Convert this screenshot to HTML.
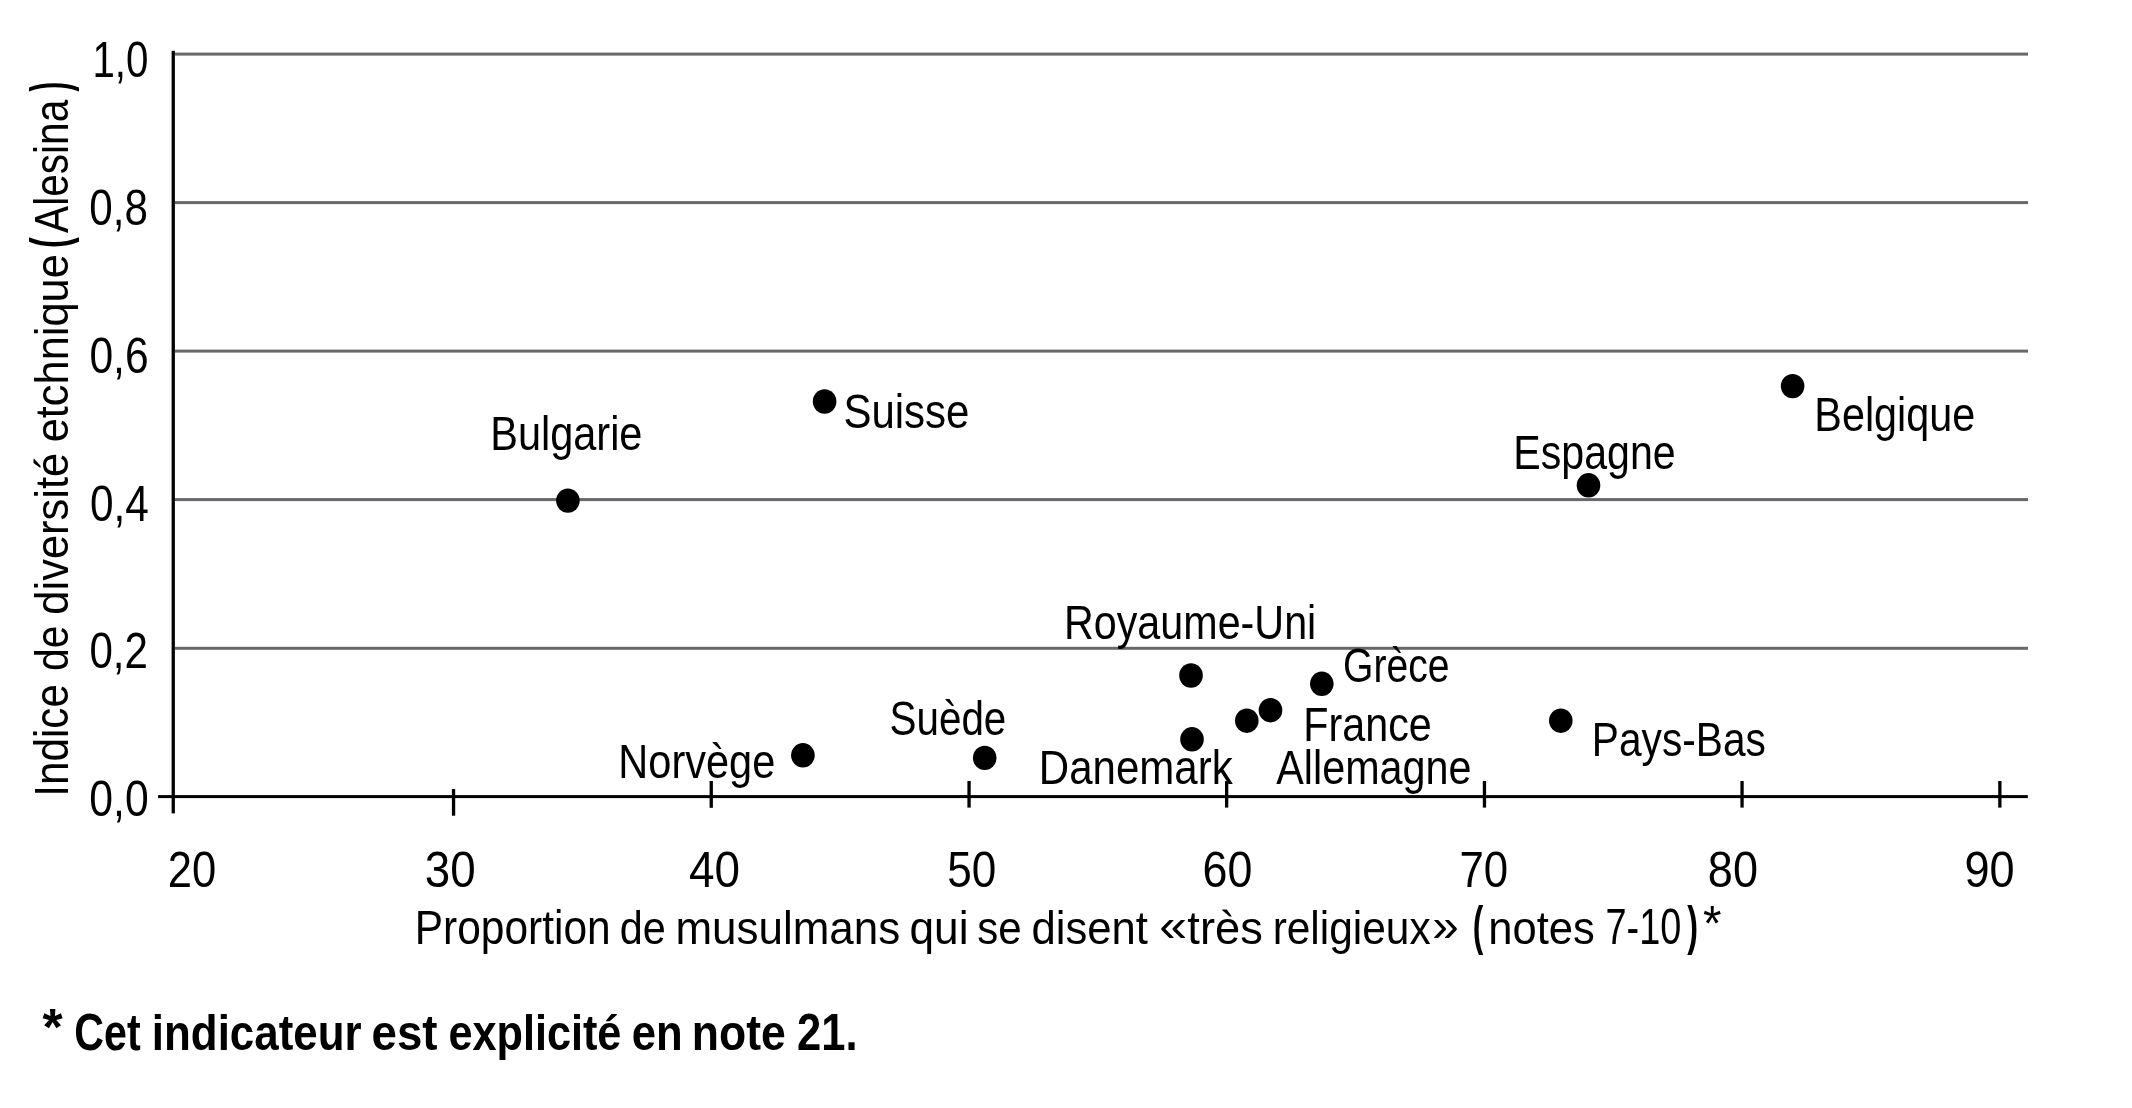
<!DOCTYPE html><html><head><meta charset="utf-8"><title>Chart</title><style>html,body{margin:0;padding:0;background:#fff;width:2132px;height:1108px;overflow:hidden}svg{display:block}.txt{will-change:transform}text{font-family:"Liberation Sans",Arial,sans-serif;fill:#000}</style></head><body>
<svg width="2132" height="1108" viewBox="0 0 2132 1108">
<rect width="2132" height="1108" fill="#fff"/>
<rect x="175" y="52.6" width="1853" height="3" fill="#67686c"/>
<rect x="175" y="201.1" width="1853" height="3" fill="#67686c"/>
<rect x="175" y="349.6" width="1853" height="3" fill="#67686c"/>
<rect x="175" y="498.1" width="1853" height="3" fill="#67686c"/>
<rect x="175" y="646.8" width="1853" height="3" fill="#67686c"/>
<rect x="171.6" y="50.8" width="3.3" height="762.6" fill="#000"/>
<rect x="158.1" y="795.1" width="1869.7" height="3" fill="#000"/>
<rect x="451.9" y="789.0" width="3.3" height="26.7" fill="#000"/>
<rect x="709.6" y="781.0" width="3.3" height="26.8" fill="#000"/>
<rect x="967.4" y="781.0" width="3.3" height="26.6" fill="#000"/>
<rect x="1225.0" y="781.2" width="3.3" height="26.4" fill="#000"/>
<rect x="1482.8" y="781.0" width="3.3" height="26.6" fill="#000"/>
<rect x="1740.4" y="781.0" width="3.3" height="26.6" fill="#000"/>
<rect x="1998.2" y="781.0" width="3.3" height="26.6" fill="#000"/>
<ellipse cx="567.9" cy="500.6" rx="11.8" ry="12.2" fill="#000"/>
<ellipse cx="824.6" cy="401.5" rx="11.8" ry="12.2" fill="#000"/>
<ellipse cx="802.9" cy="755.3" rx="11.8" ry="12.2" fill="#000"/>
<ellipse cx="984.7" cy="757.9" rx="11.8" ry="12.2" fill="#000"/>
<ellipse cx="1191.0" cy="675.5" rx="11.8" ry="12.2" fill="#000"/>
<ellipse cx="1192.0" cy="739.3" rx="11.8" ry="12.2" fill="#000"/>
<ellipse cx="1246.8" cy="720.7" rx="11.8" ry="12.2" fill="#000"/>
<ellipse cx="1270.5" cy="710.2" rx="11.8" ry="12.2" fill="#000"/>
<ellipse cx="1321.8" cy="683.8" rx="11.8" ry="12.2" fill="#000"/>
<ellipse cx="1560.8" cy="720.7" rx="11.8" ry="12.2" fill="#000"/>
<ellipse cx="1588.5" cy="485.3" rx="11.8" ry="12.2" fill="#000"/>
<ellipse cx="1792.6" cy="386.1" rx="11.8" ry="12.2" fill="#000"/>
<g class="txt">
<text id="bulgarie" x="490.23" y="449.80" font-size="48.20" textLength="152.24" lengthAdjust="spacingAndGlyphs">Bulgarie</text>
<text id="suisse" x="843.41" y="428.00" font-size="48.20" textLength="126.02" lengthAdjust="spacingAndGlyphs">Suisse</text>
<text id="belgique" x="1814.30" y="431.20" font-size="48.20" textLength="160.98" lengthAdjust="spacingAndGlyphs">Belgique</text>
<text id="espagne" x="1513.31" y="468.50" font-size="48.20" textLength="162.44" lengthAdjust="spacingAndGlyphs">Espagne</text>
<text id="ru" x="1063.95" y="638.70" font-size="48.20" textLength="252.35" lengthAdjust="spacingAndGlyphs">Royaume-Uni</text>
<text id="grece" x="1343.12" y="681.90" font-size="48.20" textLength="106.38" lengthAdjust="spacingAndGlyphs">Grèce</text>
<text id="france" x="1303.28" y="740.90" font-size="48.20" textLength="128.49" lengthAdjust="spacingAndGlyphs">France</text>
<text id="paysbas" x="1591.87" y="756.20" font-size="48.20" textLength="174.03" lengthAdjust="spacingAndGlyphs">Pays-Bas</text>
<text id="suede" x="889.57" y="734.60" font-size="48.20" textLength="116.74" lengthAdjust="spacingAndGlyphs">Suède</text>
<text id="norvege" x="618.32" y="777.90" font-size="48.20" textLength="156.94" lengthAdjust="spacingAndGlyphs">Norvège</text>
<text id="danemark" x="1038.86" y="784.00" font-size="48.20" textLength="193.84" lengthAdjust="spacingAndGlyphs">Danemark</text>
<text id="allemagne" x="1276.30" y="784.20" font-size="48.20" textLength="195.15" lengthAdjust="spacingAndGlyphs">Allemagne</text>
<text id="y0" x="92.41" y="76.90" font-size="50.80" textLength="55.93" lengthAdjust="spacingAndGlyphs">1,0</text>
<text id="y1" x="89.35" y="225.00" font-size="50.80" textLength="58.60" lengthAdjust="spacingAndGlyphs">0,8</text>
<text id="y2" x="89.39" y="373.30" font-size="50.80" textLength="59.26" lengthAdjust="spacingAndGlyphs">0,6</text>
<text id="y3" x="90.03" y="520.50" font-size="50.80" textLength="58.92" lengthAdjust="spacingAndGlyphs">0,4</text>
<text id="y4" x="89.38" y="668.30" font-size="50.80" textLength="58.48" lengthAdjust="spacingAndGlyphs">0,2</text>
<text id="y5" x="89.34" y="816.00" font-size="50.80" textLength="59.39" lengthAdjust="spacingAndGlyphs">0,0</text>
<text id="x20" x="167.81" y="886.90" font-size="50.80" textLength="48.44" lengthAdjust="spacingAndGlyphs">20</text>
<text id="x30" x="424.84" y="886.90" font-size="50.80" textLength="50.89" lengthAdjust="spacingAndGlyphs">30</text>
<text id="x40" x="689.01" y="886.90" font-size="50.80" textLength="50.99" lengthAdjust="spacingAndGlyphs">40</text>
<text id="x50" x="947.27" y="886.90" font-size="50.80" textLength="49.04" lengthAdjust="spacingAndGlyphs">50</text>
<text id="x60" x="1202.58" y="886.90" font-size="50.80" textLength="49.82" lengthAdjust="spacingAndGlyphs">60</text>
<text id="x70" x="1459.47" y="886.90" font-size="50.80" textLength="48.72" lengthAdjust="spacingAndGlyphs">70</text>
<text id="x80" x="1707.85" y="886.90" font-size="50.80" textLength="50.11" lengthAdjust="spacingAndGlyphs">80</text>
<text id="x90" x="1964.49" y="886.90" font-size="50.80" textLength="50.16" lengthAdjust="spacingAndGlyphs">90</text>
<text id="xt0" x="414.79" y="943.80" font-size="48.20" textLength="195.88" lengthAdjust="spacingAndGlyphs">Proportion</text>
<text id="xt1" x="619.76" y="943.80" font-size="46.80" textLength="46.02" lengthAdjust="spacingAndGlyphs">de</text>
<text id="xt2" x="675.44" y="943.80" font-size="46.80" textLength="224.71" lengthAdjust="spacingAndGlyphs">musulmans</text>
<text id="xt3" x="909.48" y="943.80" font-size="46.80" textLength="58.99" lengthAdjust="spacingAndGlyphs">qui</text>
<text id="xt4" x="977.37" y="943.80" font-size="46.80" textLength="44.39" lengthAdjust="spacingAndGlyphs">se</text>
<text id="xt5" x="1031.47" y="943.80" font-size="46.80" textLength="116.53" lengthAdjust="spacingAndGlyphs">disent</text>
<text id="xt6" x="1159.19" y="940.80" font-size="46.80" textLength="27.75" lengthAdjust="spacingAndGlyphs">«</text>
<text id="xt7" x="1187.37" y="943.80" font-size="46.80" textLength="75.38" lengthAdjust="spacingAndGlyphs">très</text>
<text id="xt8" x="1272.65" y="943.80" font-size="46.80" textLength="157.97" lengthAdjust="spacingAndGlyphs">religieux</text>
<text id="xt9" x="1432.38" y="940.80" font-size="46.80" textLength="26.50" lengthAdjust="spacingAndGlyphs">»</text>
<text id="xt10" x="1472.76" y="943.80" font-size="54.00" textLength="10.53" lengthAdjust="spacingAndGlyphs" font-weight="bold">(</text>
<text id="xt11" x="1488.26" y="943.80" font-size="46.80" textLength="106.50" lengthAdjust="spacingAndGlyphs">notes</text>
<text id="xt12" x="1605.51" y="943.80" font-size="50.80" textLength="75.76" lengthAdjust="spacingAndGlyphs">7-10</text>
<text id="xt13" x="1687.15" y="943.80" font-size="54.00" textLength="10.79" lengthAdjust="spacingAndGlyphs" font-weight="bold">)</text>
<text id="xt14" x="1702.92" y="940.80" font-size="50.70" textLength="18.49" lengthAdjust="spacingAndGlyphs">*</text>
<text id="ft0" x="42.53" y="1045.00" font-size="52.50" textLength="20.18" lengthAdjust="spacingAndGlyphs" font-weight="bold">*</text>
<text id="ft1" x="74.36" y="1050.00" font-size="51.30" textLength="66.25" lengthAdjust="spacingAndGlyphs" font-weight="bold">Cet</text>
<text id="ft2" x="151.85" y="1050.00" font-size="50.50" textLength="209.76" lengthAdjust="spacingAndGlyphs" font-weight="bold">indicateur</text>
<text id="ft3" x="371.50" y="1050.00" font-size="50.50" textLength="66.03" lengthAdjust="spacingAndGlyphs" font-weight="bold">est</text>
<text id="ft4" x="448.38" y="1050.00" font-size="50.50" textLength="173.04" lengthAdjust="spacingAndGlyphs" font-weight="bold">explicité</text>
<text id="ft5" x="631.83" y="1050.00" font-size="50.50" textLength="50.86" lengthAdjust="spacingAndGlyphs" font-weight="bold">en</text>
<text id="ft6" x="691.83" y="1050.00" font-size="50.50" textLength="94.03" lengthAdjust="spacingAndGlyphs" font-weight="bold">note</text>
<text id="ft7" x="796.96" y="1050.00" font-size="52.50" textLength="60.53" lengthAdjust="spacingAndGlyphs" font-weight="bold">21.</text>
<text id="yt0" transform="translate(68.40 796.80) rotate(-90)" x="0" y="0" font-size="48.20" textLength="112.68" lengthAdjust="spacingAndGlyphs">Indice</text>
<text id="yt1" transform="translate(68.40 670.92) rotate(-90)" x="0" y="0" font-size="46.80" textLength="45.30" lengthAdjust="spacingAndGlyphs">de</text>
<text id="yt2" transform="translate(68.40 614.65) rotate(-90)" x="0" y="0" font-size="46.80" textLength="161.80" lengthAdjust="spacingAndGlyphs">diversité</text>
<text id="yt3" transform="translate(68.40 442.31) rotate(-90)" x="0" y="0" font-size="46.80" textLength="188.17" lengthAdjust="spacingAndGlyphs">etchnique</text>
<text id="yt4" transform="translate(68.40 247.94) rotate(-90)" x="0" y="0" font-size="54.00" textLength="10.66" lengthAdjust="spacingAndGlyphs" font-weight="bold">(</text>
<text id="yt5" transform="translate(68.40 232.90) rotate(-90)" x="0" y="0" font-size="48.20" textLength="133.11" lengthAdjust="spacingAndGlyphs">Alesina</text>
<text id="yt6" transform="translate(68.40 91.45) rotate(-90)" x="0" y="0" font-size="54.00" textLength="9.81" lengthAdjust="spacingAndGlyphs" font-weight="bold">)</text>
</g>
</svg></body></html>
